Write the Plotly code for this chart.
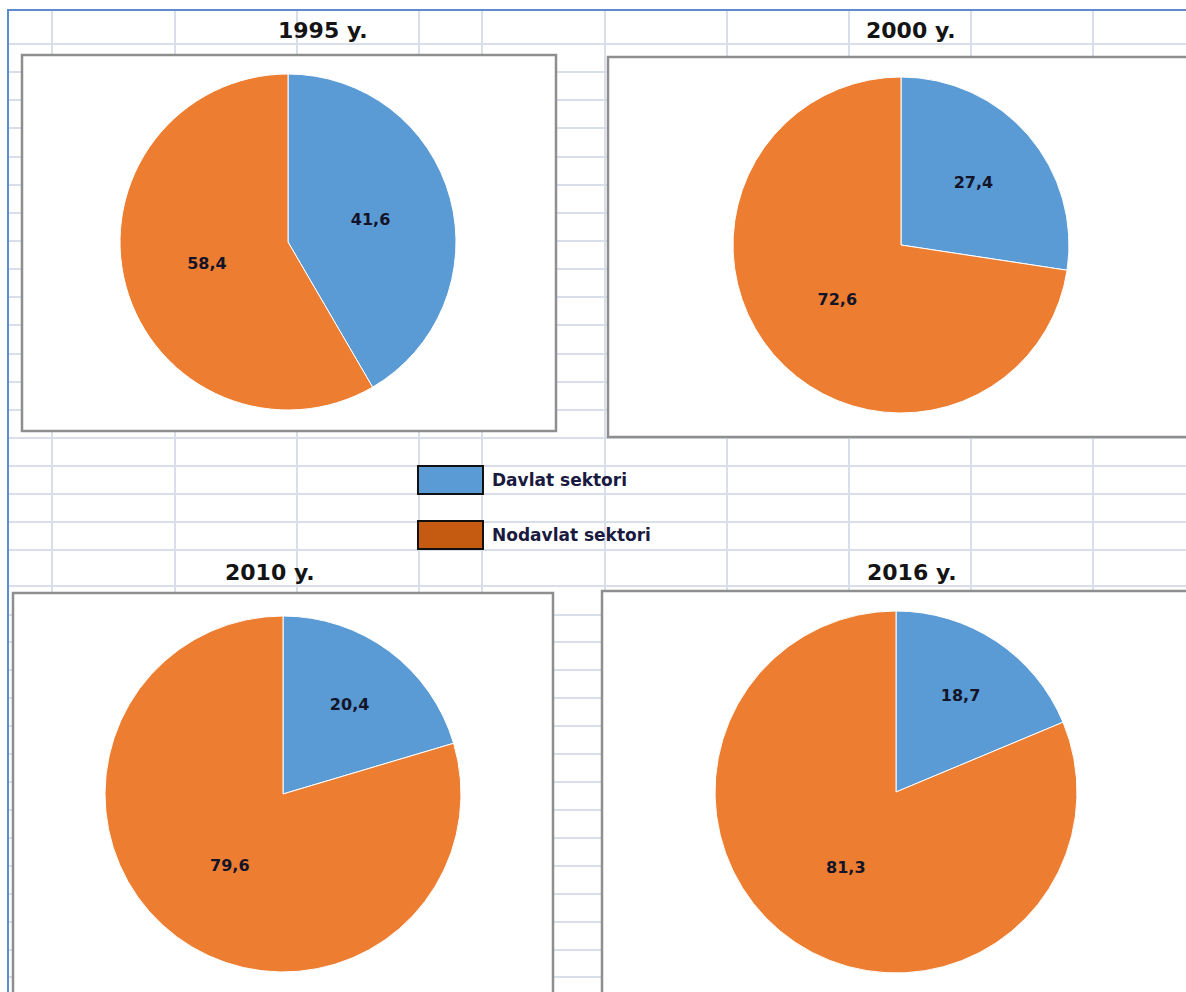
import plotly.graph_objects as go

# ---- data ----
years = ["1995 y.", "2000 y.", "2010 y.", "2016 y."]
sectors = ["Davlat sektori", "Nodavlat sektori"]
davlat = [41.6, 27.4, 20.4, 18.7]
nodavlat = [58.4, 72.6, 79.6, 81.3]

# ---- styling / layout (pixel units of the 1186x992 canvas) ----
W, H = 1186, 992
pie_colors = ["#5B9BD5", "#ED7D31"]
legend_colors = ["#5B9BD5", "#C55A11"]
pie_centers = [(288, 242), (901, 245), (283, 794), (896, 792)]
pie_radius = [168, 168, 178, 181]
title_pos = [(323, 30), (911, 30), (270, 572), (912, 572)]
frames = [(22, 55, 556, 431), (608, 57, 1200, 437), (13, 593, 553, 1000), (602, 591, 1200, 1000)]
grid_x = [52, 175, 297, 419, 482, 605, 727, 849, 971, 1093]
grid_y = [44, 72, 100, 128, 157, 185, 213, 241, 269, 297, 325, 354, 382, 410, 438,
          466, 494, 522, 550, 586, 615, 642, 670, 698, 726, 754, 782, 810, 838,
          866, 894, 922, 950, 977]
LEFT, TOP = 9, 11

fig = go.Figure()

# invisible trace so the background "spreadsheet" axes render
fig.add_trace(go.Scatter(x=[LEFT, W], y=[TOP, H], mode="markers",
                         marker=dict(opacity=0), hoverinfo="skip", showlegend=False))

for i, yr in enumerate(years):
    cx, cy = pie_centers[i]
    r = pie_radius[i]
    fig.add_trace(go.Pie(
        labels=sectors,
        values=[davlat[i], nodavlat[i]],
        sort=False,
        direction="clockwise",
        rotation=0,
        marker=dict(colors=pie_colors, line=dict(color="white", width=1)),
        texttemplate="%{value:.1f}",
        textposition="inside",
        insidetextorientation="horizontal",
        textfont=dict(family="DejaVu Sans", size=16, color="#141428", weight="bold"),
        domain=dict(x=[(cx - r) / W, (cx + r) / W], y=[1 - (cy + r) / H, 1 - (cy - r) / H]),
        showlegend=False,
        name=yr,
    ))

shapes = []
for (x0, y0, x1, y1) in frames:
    shapes.append(dict(type="rect", xref="x", yref="y", x0=x0, y0=y0, x1=x1, y1=y1,
                       layer="between", fillcolor="white",
                       line=dict(color="#8E8E8E", width=2.5)))

# legend swatches
legend_rows = [480, 535]
for k, c in enumerate(legend_colors):
    yc = legend_rows[k]
    shapes.append(dict(type="rect", xref="x", yref="y", x0=418, x1=483, y0=yc - 14, y1=yc + 14,
                       layer="between", fillcolor=c, line=dict(color="#111111", width=2)))

annotations = []
for i, yr in enumerate(years):
    tx, ty = title_pos[i]
    annotations.append(dict(x=tx, y=ty, xref="x", yref="y", text=yr, showarrow=False,
                            font=dict(family="DejaVu Sans", size=22, color="#141414", weight="bold"),
                            xanchor="center", yanchor="middle"))
for k, s in enumerate(sectors):
    annotations.append(dict(x=490, y=legend_rows[k], xref="x", yref="y", text=s, showarrow=False,
                            font=dict(family="DejaVu Sans", size=17, color="#1A1A40", weight="bold"),
                            xanchor="left", yanchor="middle"))

fig.update_layout(
    width=W, height=H,
    margin=dict(l=0, r=0, t=0, b=0),
    paper_bgcolor="white", plot_bgcolor="white",
    separators=",.",
    showlegend=False,
    shapes=shapes,
    annotations=annotations,
    xaxis=dict(domain=[LEFT / W, 1], range=[LEFT, W], side="top",
               tickvals=grid_x, showticklabels=False, ticks="",
               showgrid=True, gridcolor="#D8DEEA", gridwidth=1.5, zeroline=False,
               showline=True, linecolor="#5E8BD0", linewidth=2, fixedrange=True),
    yaxis=dict(domain=[0, 1 - TOP / H], range=[H, TOP],
               tickvals=grid_y, showticklabels=False, ticks="",
               showgrid=True, gridcolor="#D8DEEA", gridwidth=1.5, zeroline=False,
               showline=True, linecolor="#5E8BD0", linewidth=2, fixedrange=True),
)

fig.write_html("out.html", config={"displayModeBar": False},
               post_script="document.body.style.margin='0';")
